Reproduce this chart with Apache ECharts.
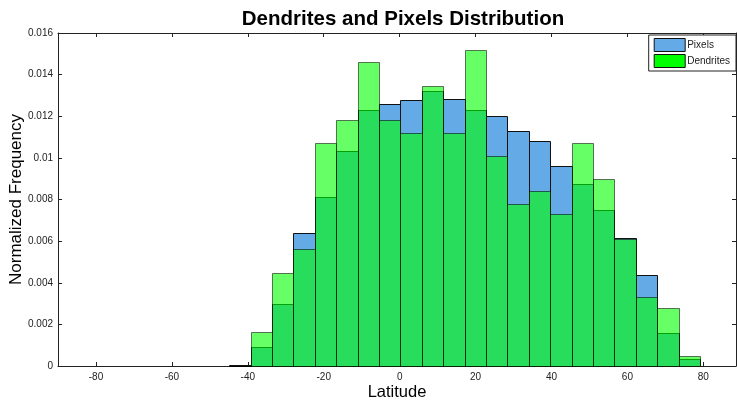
<!DOCTYPE html>
<html>
<head>
<meta charset="utf-8">
<script src="https://cdn.jsdelivr.net/npm/echarts@6/dist/echarts.min.js"></script>
<style>html,body{margin:0;padding:0;background:#fff}#c{width:737px;height:404px}</style>
</head>
<body>
<div id="c"></div>
<script>
// Bin centers (latitude) and bin width
var binCenters = [-42.10, -36.46, -30.82, -25.18, -19.55, -13.91, -8.27, -2.63, 3.01, 8.65, 14.28,
                  19.92, 25.56, 31.20, 36.84, 42.48, 48.11, 53.75, 59.39, 65.03, 70.67, 76.31];
var binWidth = 5.638;
var pixels = [0.00004, 0.0009, 0.0030, 0.0064, 0.0081, 0.01035, 0.0123, 0.0126, 0.0128, 0.0132, 0.01285,
              0.0123, 0.0120, 0.0113, 0.0108, 0.0096, 0.00875, 0.0075, 0.00614, 0.00435, 0.0016, 0.00035];
var dendrites = [0.00002, 0.00165, 0.00448, 0.0056, 0.0107, 0.0118, 0.0146, 0.0118, 0.0112, 0.01347, 0.0112,
                 0.0152, 0.0101, 0.0078, 0.0084, 0.0073, 0.0107, 0.0090, 0.00612, 0.0033, 0.0028, 0.0005];
var xTicks = [-80, -60, -40, -20, 0, 20, 40, 60, 80];

var chart = echarts.init(document.getElementById('c'));

function mkRender(fill, stroke) {
  return function (params, api) {
    var c = api.value(0), v = api.value(1);
    var p0 = api.coord([c - binWidth / 2, 0]);
    var p1 = api.coord([c + binWidth / 2, v]);
    var x0 = Math.round(p0[0]) + 0.5, x1 = Math.round(p1[0]) + 0.5;
    var y0 = Math.round(p0[1]) + 0.5, y1 = Math.round(p1[1]) + 0.5;
    return {
      type: 'rect',
      shape: { x: x0, y: y1, width: x1 - x0, height: y0 - y1 },
      style: { fill: fill, stroke: stroke, lineWidth: 1 }
    };
  };
}

var pixData = binCenters.map(function (c, i) { return [c, pixels[i]]; });
var denData = binCenters.map(function (c, i) { return [c, dendrites[i]]; });

var axisLine = { show: true, onZero: false, lineStyle: { color: '#222', width: 1 } };
var tickStyle = { show: true, inside: true, length: 4, lineStyle: { color: '#222' } };
var lblStyle = { fontFamily: 'Liberation Sans, Arial, sans-serif', fontSize: 10, color: '#222' };

chart.setOption({
  animation: false,
  backgroundColor: '#fff',
  title: {
    text: 'Dendrites and Pixels Distribution',
    left: 398, textAlign: 'center', top: 4,
    textStyle: { fontFamily: 'Liberation Sans, Arial, sans-serif', fontSize: 20.5, fontWeight: 'bold', color: '#000' }
  },
  legend: {
    orient: 'vertical', right: 1, top: 35,
    itemWidth: 31, itemHeight: 13, itemGap: 2,
    padding: [3, 6, 3, 5],
    backgroundColor: '#fff', borderColor: '#222', borderWidth: 1, borderRadius: 0,
    icon: 'rect',
    textStyle: { fontFamily: 'Liberation Sans, Arial, sans-serif', fontSize: 10, color: '#222', padding: [0, 0, 0, -3] },
    data: [
      { name: 'Pixels', itemStyle: { color: '#64aae6', borderColor: '#111', borderWidth: 1 } },
      { name: 'Dendrites', itemStyle: { color: '#00ff00', borderColor: '#111', borderWidth: 1 } }
    ]
  },
  grid: { left: 58, right: 1, top: 33, bottom: 38, containLabel: false, outerBoundsMode: 'none', show: false },
  xAxis: [{
    type: 'value', min: -90, max: 88.6, position: 'bottom',
    name: 'Latitude', nameLocation: 'middle', nameGap: 18, nameMoveOverlap: false,
    nameTextStyle: { fontFamily: 'Liberation Sans, Arial, sans-serif', fontSize: 16.5, color: '#000' },
    axisLine: axisLine,
    axisTick: Object.assign({ customValues: xTicks }, tickStyle),
    axisLabel: Object.assign({ customValues: xTicks, margin: 6 }, lblStyle),
    splitLine: { show: false }
  }, {
    type: 'value', min: -90, max: 88.6, position: 'top',
    axisLine: axisLine,
    axisTick: Object.assign({ customValues: xTicks }, tickStyle),
    axisLabel: { show: false },
    splitLine: { show: false }
  }],
  yAxis: [{
    type: 'value', min: 0, max: 0.016, interval: 0.002, position: 'left',
    name: 'Normalized Frequency', nameLocation: 'middle', nameGap: 33, nameRotate: 90, nameMoveOverlap: false,
    nameTextStyle: { fontFamily: 'Liberation Sans, Arial, sans-serif', fontSize: 17, color: '#000' },
    axisLine: axisLine, axisTick: tickStyle,
    axisLabel: Object.assign({ margin: 5 }, lblStyle),
    splitLine: { show: false }
  }, {
    type: 'value', min: 0, max: 0.016, interval: 0.002, position: 'right',
    axisLine: axisLine, axisTick: tickStyle,
    axisLabel: { show: false },
    splitLine: { show: false }
  }],
  series: [{
    name: 'Pixels', type: 'custom', xAxisIndex: 0, yAxisIndex: 0,
    itemStyle: { color: '#64aae6' },
    renderItem: mkRender('#64aae6', '#111'),
    data: pixData, z: 2
  }, {
    name: 'Dendrites', type: 'custom', xAxisIndex: 0, yAxisIndex: 0,
    itemStyle: { color: '#00ff00' },
    renderItem: mkRender('rgba(0,255,0,0.6)', 'rgba(0,0,0,0.55)'),
    data: denData, z: 3
  }]
});
</script>
</body>
</html>
